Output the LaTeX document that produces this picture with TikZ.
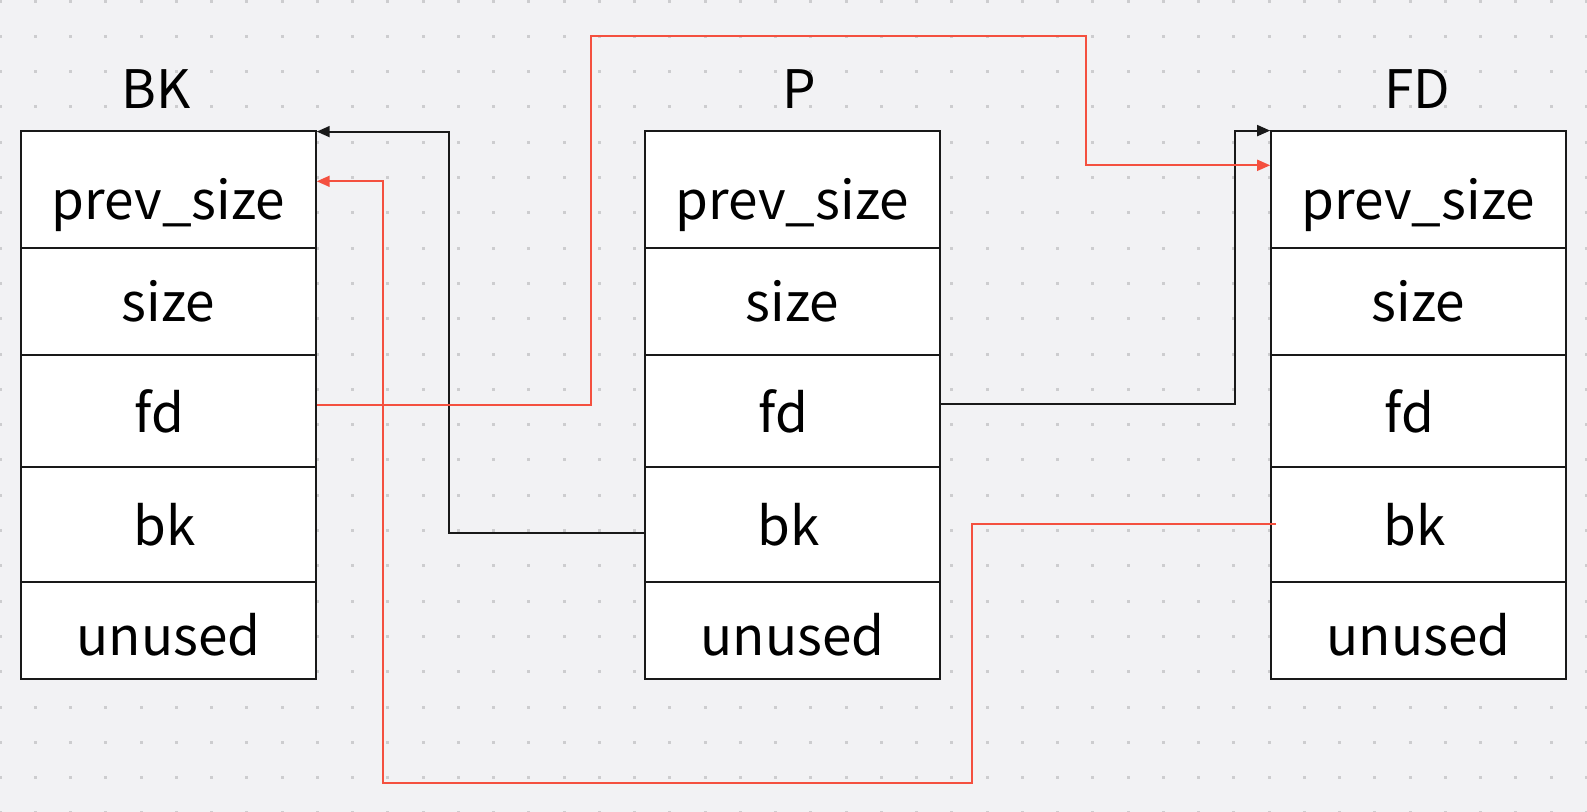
\documentclass[tikz,border=0pt]{standalone}
\usepackage{fontspec}
\setmainfont{Noto Sans CJK SC}
\usepackage{tikz}
\usetikzlibrary{arrows.meta,positioning,calc}
\definecolor{bg}{HTML}{F2F2F4}
\definecolor{dotc}{HTML}{CDCDCF}
\definecolor{ptr}{HTML}{F4503F}
\tikzset{cell/.style={draw=black!90,line width=0.04cm,fill=white,minimum width=5.89cm,inner sep=0pt},
txt/.style={font=\fontsize{30.2}{36}\selectfont,inner sep=0pt},
link/.style={-{Triangle[length=2.6mm,width=2.2mm]},line width=0.038cm,draw=black!90},
redlink/.style={link,draw=ptr,-{Triangle[length=2.6mm,width=2.2mm,fill=ptr]}}}

\begin{document}
\begin{tikzpicture}[x=0.02cm,y=-0.02cm]
\useasboundingbox (0,0) rectangle (1587,812);
\fill[bg] (0,0) rectangle (1587,812);
\foreach \i in {0,...,45} \foreach \j in {0,...,23}
  \fill[dotc] ({\i*35.25-1.5},{\j*35.3-0.5}) rectangle ++(3,3);
% the three chunks
\foreach \name/\x in {BK/168.5,P/792.4,FD/1418.4}{
  \foreach \f/\t/\ya/\yb/\dx/\dy in {prev/prev\_size/130.6/248/0/16,size/size/248/355.3/0/0,fd/fd/355.3/466.6/-9/0,bk/bk/466.6/582/-4/0,unused/unused/582/679.1/0/4}{
    \node[cell,minimum height={(\yb-\ya)*0.02cm}] (\name-\f) at (\x,{(\ya+\yb)/2}) {};
    \node[txt] (\name-\f-t) at ($(\name-\f.center)+(\dx,\dy)$) {\t};
  }
}
\node[txt] (tBK) at (156,89) {BK};
\node[txt] (tP) at (799.5,89) {P};
\node[txt] (tFD) at (1417,89) {FD};
% pointers
\draw[link] ([yshift=-0.18cm]P-bk.west) -- ++(-195.3,0) |- ([yshift=-0.04cm]BK-prev.north east);
\draw[link] ([yshift=0.14cm]P-fd.east) -- ++(294,0) |- ([yshift=-0.02cm]FD-prev.north west);
\draw[redlink] ([yshift=0.12cm]BK-fd.east) -- ++(274.2,0) -- ++(0,-369.4) -- ++(495,0) |- ([yshift=0.48cm]FD-prev.west);
\draw[redlink] ([xshift=0.12cm]FD-bk.west) -- ++(-304.6,0) -- ++(0,259.1) -- ++(-589,0) |- ([yshift=0.16cm]BK-prev.east);
\end{tikzpicture}
\end{document}
